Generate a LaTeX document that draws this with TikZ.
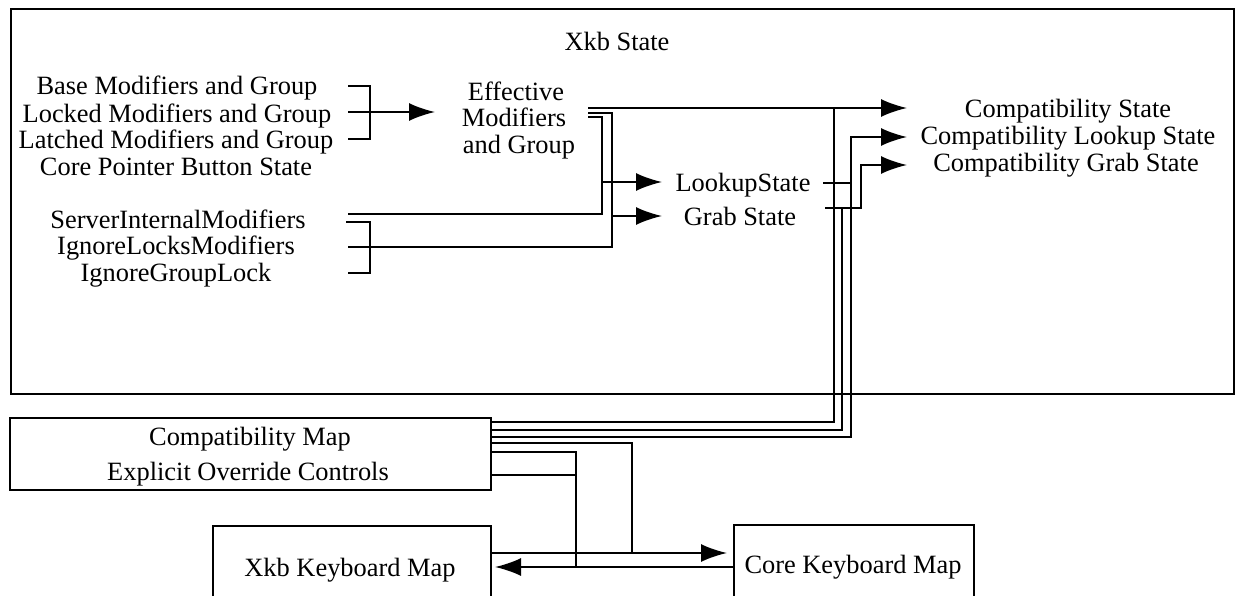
\documentclass[tikz,border=0pt]{standalone}
\usepackage{fontspec}
\setmainfont{Liberation Serif}
\usetikzlibrary{arrows.meta}
\begin{document}
\begin{tikzpicture}[x=1pt,y=-1pt,line width=2pt,
  lbl/.style={inner sep=0pt,text height=17.4pt,text depth=0pt,font=\fontsize{26.4}{30}\selectfont},
  box/.style={draw,line width=2pt,inner sep=0pt,anchor=north west},
  arr/.style={-{Latex[length=26pt,width=18pt]}}]
\clip (0,0) rectangle (1238,596);
\useasboundingbox (0,0) rectangle (1238,596);
% boxes
\node[box,minimum width=1223pt,minimum height=385pt] (xkbstate) at (10,8) {};
\node[box,minimum width=481pt,minimum height=72pt] (cmap) at (9,417) {};
\node[box,minimum width=278pt,minimum height=120pt] (xkbm) at (212,525) {};
\node[box,minimum width=240pt,minimum height=120pt] (corem) at (733,524) {};
% labels
\node[lbl] (title) at (617,42) {Xkb State};
\node[lbl] (base) at (177,86) {Base Modifiers and Group};
\node[lbl] (locked) at (177,114) {Locked Modifiers and Group};
\node[lbl] (latched) at (176,140) {Latched Modifiers and Group};
\node[lbl] (corep) at (176,167) {Core Pointer Button State};
\node[lbl] (sim) at (178,220) {ServerInternalModifiers};
\node[lbl] (ilm) at (176,246) {IgnoreLocksModifiers};
\node[lbl] (igl) at (176,273) {IgnoreGroupLock};
\node[lbl] (eff1) at (516,92) {Effective};
\node[lbl] (eff2) at (514,118) {Modifiers};
\node[lbl] (eff3) at (519,145) {and Group};
\node[lbl] (lookup) at (743,183) {LookupState};
\node[lbl] (grab) at (740,217) {Grab State};
\node[lbl] (cst) at (1068,109) {Compatibility State};
\node[lbl] (clk) at (1068,136) {Compatibility Lookup State};
\node[lbl] (cgr) at (1066,163) {Compatibility Grab State};
\node[lbl] (cmapt) at (250,437) {Compatibility Map};
\node[lbl] (eoc) at (248,472) {Explicit Override Controls};
\node[lbl] (xkbmt) at (350,568) {Xkb Keyboard Map};
\node[lbl] (coremt) at (853,565) {Core Keyboard Map};
% brackets
\draw (348,86) -| (370,139) -- (348,139);
\draw[arr] (348,112) -- (435,112);
\draw (346,222) -| (370,273) -- (348,273);
\draw (348,214) -- (602,214) -- (602,117) -- (588,117);
\draw (348,247) -- (612,247) -- (612,113) -- (588,113);
\draw[arr] (602,182) -- (662,182);
\draw[arr] (612,216) -- (662,216);
% to compatibility states
\draw[arr] (588,108) -- (907,108);
\draw (834,108) |- (cmap.east |- 0,422);
\draw (823,183) -- (851,183);
\draw[arr] (cmap.east |- 0,437) -| (851,137) -- (907,137);
\draw[arr] (825,208) -| (861,165) -- (907,165);
\draw (842,208) |- (cmap.east |- 0,430);
% keyboard maps
\draw (cmap.east |- 0,443) -| (632,553);
\draw[arr] (xkbm.east |- 0,553) -- (727,553);
\draw (cmap.east |- 0,452) -| (576,567);
\draw (cmap.east |- 0,475) -- (576,475);
\draw[arr] (corem.west |- 0,567) -- (495,567);
\end{tikzpicture}
\end{document}
